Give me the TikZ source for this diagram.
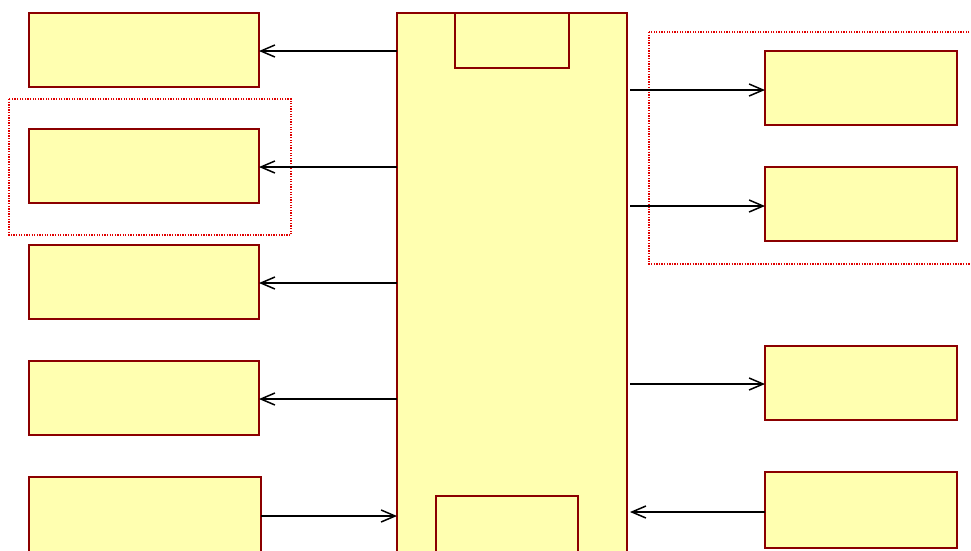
\documentclass[tikz,border=0pt]{standalone}
\usetikzlibrary{arrows.meta}
\definecolor{boxfill}{HTML}{FFFFB0}
\definecolor{boxline}{HTML}{8B0000}
\definecolor{dotred}{HTML}{E00000}
\begin{document}
\begin{tikzpicture}[x=1pt,y=-1pt,
  blk/.style={draw=boxline,fill=boxfill,line width=1.6pt},
  nblk/.style={blk,anchor=north west,inner sep=0,outer sep=0},
  grp/.style={draw=dotred,line width=1.3pt,dash pattern=on 1.3pt off 1.3pt},
  conn/.style={draw=black,line width=1.5pt,-{Straight Barb[length=14pt,width=12pt,line width=1.5pt]}}]
\useasboundingbox (0,0) rectangle (971,550);
\clip (0,0) rectangle (971,550);
% groups
\draw[grp] (9,99) rectangle (291,235);
\draw[grp] (649,32) rectangle (975,264);
% center
\path[blk] (397,13) rectangle (627,560);
\coordinate (cw) at (397,0);
\coordinate (ce) at (630,0);
\path[blk] (455,13) rectangle (569,68);
\path[blk] (436,496) rectangle (578,560);
% left boxes
\node[nblk,minimum width=230pt,minimum height=74pt] (l1) at (29,13) {};
\node[nblk,minimum width=230pt,minimum height=74pt] (l2) at (29,129) {};
\node[nblk,minimum width=230pt,minimum height=74pt] (l3) at (29,245) {};
\node[nblk,minimum width=230pt,minimum height=74pt] (l4) at (29,361) {};
\node[nblk,minimum width=232pt,minimum height=80pt] (l5) at (29,477) {};
% right boxes
\node[nblk,minimum width=192pt,minimum height=74pt] (r1) at (765,51) {};
\node[nblk,minimum width=192pt,minimum height=74pt] (r2) at (765,167) {};
\node[nblk,minimum width=192pt,minimum height=74pt] (r3) at (765,346) {};
\node[nblk,minimum width=192pt,minimum height=76pt] (r4) at (765,472) {};
% connectors
\draw[conn] (cw |- 0,51) -- (l1.east |- 0,51);
\draw[conn] (cw |- 0,167) -- (l2.east |- 0,167);
\draw[conn] (cw |- 0,283) -- (l3.east |- 0,283);
\draw[conn] (cw |- 0,399) -- (l4.east |- 0,399);
\draw[conn] (l5.east |- 0,516) -- (cw |- 0,516);
\draw[conn] (ce |- 0,90) -- (r1.west |- 0,90);
\draw[conn] (ce |- 0,206) -- (r2.west |- 0,206);
\draw[conn] (ce |- 0,384) -- (r3.west |- 0,384);
\draw[conn] (r4.west |- 0,512) -- (ce |- 0,512);
\end{tikzpicture}
\end{document}
